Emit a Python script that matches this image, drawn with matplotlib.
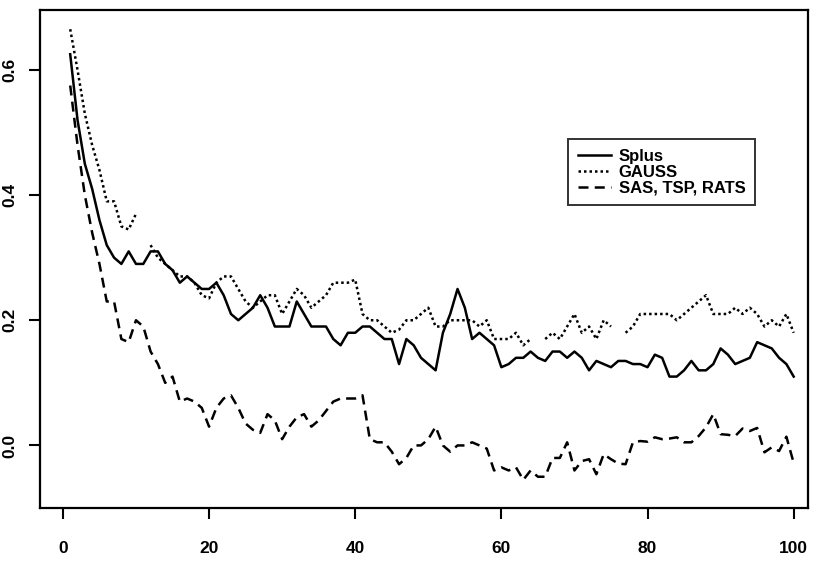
import numpy as np
import matplotlib
matplotlib.use("Agg")
import matplotlib.pyplot as plt

# Iteration index
steps = np.arange(1, 101)

# Estimates from each package (NaN marks breaks in the GAUSS trace)
splus = [
    0.625, 0.52, 0.45, 0.41, 0.36, 0.32, 0.30, 0.29, 0.31, 0.29,
    0.29, 0.31, 0.31, 0.29, 0.28, 0.26, 0.27, 0.26, 0.25, 0.25,
    0.26, 0.24, 0.21, 0.20, 0.21, 0.22, 0.24, 0.22, 0.19, 0.19,
    0.19, 0.23, 0.21, 0.19, 0.19, 0.19, 0.17, 0.16, 0.18, 0.18,
    0.19, 0.19, 0.18, 0.17, 0.17, 0.13, 0.17, 0.16, 0.14, 0.13,
    0.12, 0.18, 0.21, 0.25, 0.22, 0.17, 0.18, 0.17, 0.16, 0.125,
    0.13, 0.14, 0.14, 0.15, 0.14, 0.135, 0.15, 0.15, 0.14, 0.15,
    0.14, 0.12, 0.135, 0.13, 0.125, 0.135, 0.135, 0.13, 0.13, 0.125,
    0.145, 0.14, 0.11, 0.11, 0.12, 0.135, 0.12, 0.12, 0.13, 0.155,
    0.145, 0.13, 0.135, 0.14, 0.165, 0.16, 0.155, 0.14, 0.13, 0.11,
]

gauss = [
    0.665, 0.60, 0.53, 0.48, 0.44, 0.39, 0.39, 0.35, 0.345, 0.37,
    np.nan, 0.32, 0.30, 0.29, 0.28, 0.27, 0.27, 0.26, 0.24, 0.235,
    0.26, 0.27, 0.27, 0.25, 0.23, 0.22, 0.23, 0.24, 0.24, 0.21,
    0.23, 0.25, 0.24, 0.22, 0.23, 0.24, 0.26, 0.26, 0.26, 0.265,
    0.21, 0.20, 0.20, 0.19, 0.18, 0.185, 0.20, 0.20, 0.21, 0.22,
    0.19, 0.19, 0.20, 0.20, 0.20, 0.20, 0.19, 0.20, 0.17, 0.17,
    0.17, 0.18, 0.16, 0.17, np.nan, 0.17, 0.18, 0.17, 0.19, 0.21,
    0.18, 0.19, 0.17, 0.20, 0.19, np.nan, 0.18, 0.19, 0.21, 0.21,
    0.21, 0.21, 0.21, 0.20, 0.21, 0.22, 0.23, 0.24, 0.21, 0.21,
    0.21, 0.22, 0.21, 0.22, 0.21, 0.19, 0.20, 0.19, 0.21, 0.18,
]

sas = [
    0.575, 0.48, 0.40, 0.34, 0.29, 0.23, 0.23, 0.17, 0.165, 0.20,
    0.19, 0.15, 0.13, 0.10, 0.11, 0.07, 0.075, 0.07, 0.06, 0.03,
    0.06, 0.075, 0.08, 0.06, 0.035, 0.025, 0.02, 0.05, 0.04, 0.01,
    0.03, 0.045, 0.05, 0.03, 0.04, 0.055, 0.07, 0.075, 0.075, 0.075,
    0.08, 0.01, 0.005, 0.005, -0.01, -0.03, -0.02, 0.0, 0.0, 0.01,
    0.03, 0.0, -0.01, 0.0, 0.0, 0.005, 0.0, -0.005, -0.04, -0.035,
    -0.04, -0.035, -0.055, -0.04, -0.05, -0.05, -0.02, -0.02, 0.005, -0.04,
    -0.025, -0.022, -0.046, -0.014, -0.022, -0.029, -0.03, 0.005, 0.007, 0.006,
    0.013, 0.01, 0.011, 0.013, 0.005, 0.005, 0.015, 0.029, 0.05, 0.018,
    0.017, 0.015, 0.027, 0.023, 0.028, -0.011, -0.003, -0.009, 0.014, -0.028,
]

labels = ["Splus", "GAUSS", "SAS, TSP, RATS"]
x_ticks = [0, 20, 40, 60, 80, 100]
y_ticks = [0.0, 0.2, 0.4, 0.6]

plt.rcParams["font.family"] = ["Liberation Sans", "DejaVu Sans"]

fig = plt.figure(figsize=(8.14, 5.76), dpi=100)
ax = fig.add_axes([0.049, 0.118, 0.944, 0.865])

lw = 1.8
ax.plot(steps, splus, color="black", lw=lw, ls="-", label=labels[0])
ax.plot(steps, gauss, color="black", lw=lw, ls=(0, (1, 1.2)), label=labels[1])
ax.plot(steps, sas, color="black", lw=lw, ls=(0, (4, 2.5)), label=labels[2])

ax.set_xlim(-3.15, 102)
ax.set_ylim(-0.1, 0.696)
ax.set_xticks(x_ticks)
ax.set_yticks(y_ticks)
ax.set_xticklabels([str(t) for t in x_ticks], fontweight="bold", fontsize=12.5)
ax.set_yticklabels([f"{t:.1f}" for t in y_ticks], fontweight="bold", fontsize=12.5,
                   rotation=90, va="center")
ax.tick_params(direction="out", length=8, width=1.5)
ax.tick_params(axis="x", pad=16)
ax.tick_params(axis="y", pad=8)
for side in ax.spines.values():
    side.set_linewidth(1.6)

leg = ax.legend(loc="upper left", bbox_to_anchor=(0.676, 0.758), frameon=True,
                fancybox=False, edgecolor="black",
                handlelength=2.0, handletextpad=0.45, borderpad=0.6,
                labelspacing=0.05,
                prop={"weight": "bold", "size": 12})
leg.get_frame().set_linewidth(1.4)

fig.savefig("out.png", dpi=100)
